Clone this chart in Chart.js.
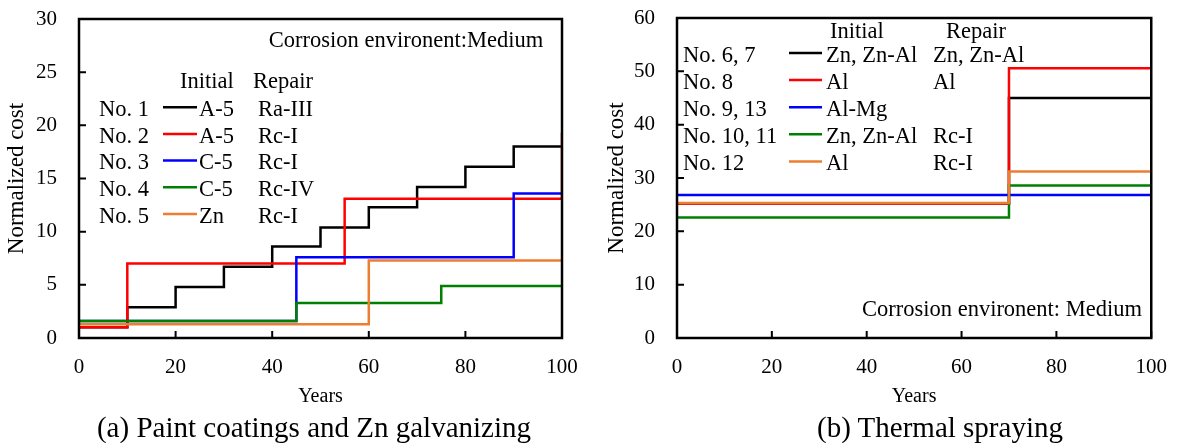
<!DOCTYPE html>
<html>
  <head>
    <title>Normalized cost</title>
    <script src="https://cdn.jsdelivr.net/npm/chart.js"></script>
    <style>
      body {
        margin: 0;
        background: #fff;
      }
      #wrap {
        position: relative;
        width: 1184px;
        height: 443px;
        background: #fff;
        font-family: "Liberation Serif", serif;
      }
      .pane {
        position: absolute;
        top: 0;
      }
      .cap {
        position: absolute;
        top: 412px;
        font-size: 29px;
        line-height: 31px;
        white-space: nowrap;
        transform: translateX(-50%);
        color: #000;
      }
    </style>
  </head>
  <body>
    <div id="wrap">
      <div class="pane" style="left: 0"><canvas id="chartA" width="600" height="443"></canvas></div>
      <div class="pane" style="left: 600px"><canvas id="chartB" width="584" height="443"></canvas></div>
      <div class="cap" style="left: 314px">(a) Paint coatings and Zn galvanizing</div>
      <div class="cap" style="left: 940px">(b) Thermal spraying</div>
    </div>

    <script>
      // (a) paint coatings and Zn galvanizing
      const aNames = ["No. 1", "No. 2", "No. 3", "No. 4", "No. 5"];
      const aInitial = ["A-5", "A-5", "C-5", "C-5", "Zn"];
      const aRepair = ["Ra-III", "Rc-I", "Rc-I", "Rc-IV", "Rc-I"];
      const aYears1 = [0, 10, 20, 30, 40, 50, 60, 70, 80, 90, 100];
      const aCost1 = [1.0, 2.9, 4.8, 6.7, 8.6, 10.4, 12.3, 14.2, 16.1, 18.0, 18.0];
      const aYears2 = [0, 10, 55, 100];
      const aCost2 = [1.0, 7.0, 13.1, 19.3];
      const aYears3 = [0, 45, 90, 100];
      const aCost3 = [1.6, 7.6, 13.6, 13.6];
      const aYears4 = [0, 45, 75, 100];
      const aCost4 = [1.6, 3.3, 4.9, 4.9];
      const aYears5 = [0, 60, 100];
      const aCost5 = [1.3, 7.3, 7.3];

      // (b) thermal spraying
      const bNames = ["No. 6, 7", "No. 8", "No. 9, 13", "No. 10, 11", "No. 12"];
      const bInitial = ["Zn, Zn-Al", "Al", "Al-Mg", "Zn, Zn-Al", "Al"];
      const bRepair = ["Zn, Zn-Al", "Al", "", "Rc-I", "Rc-I"];
      const bYears1 = [0, 70, 100];
      const bCost1 = [25.2, 45.0, 45.0];
      const bYears2 = [0, 70, 100];
      const bCost2 = [25.2, 50.6, 50.6];
      const bYears3 = [0, 100];
      const bCost3 = [26.8, 26.8];
      const bYears4 = [0, 70, 100];
      const bCost4 = [22.6, 28.6, 28.6];
      const bYears5 = [0, 70, 100];
      const bCost5 = [25.3, 31.2, 31.2];

      const colors = ["#000000", "#ff0000", "#0000ff", "#008000", "#ed7d31"];
      const serif = "'Liberation Serif', 'Times New Roman', serif";

      function pts(xs, ys) {
        return xs.map((x, i) => ({ x: x, y: ys[i] }));
      }

      function makeSets(list) {
        return list.map((d, i) => ({
          data: pts(d[0], d[1]),
          borderColor: colors[i],
          borderWidth: 2.5,
          pointRadius: 0,
          stepped: "before",
          fill: false,
          order: list.length - i,
        }));
      }

      // box frame + inward tick marks + legend block
      const framePlugin = {
        id: "frame",
        afterDraw(chart, args, o) {
          let ctx = chart.ctx;
          let a = chart.chartArea;
          let xs = chart.scales.x;
          let ys = chart.scales.y;
          ctx.save();
          ctx.strokeStyle = "#000";
          ctx.lineWidth = 2.5;
          ctx.strokeRect(a.left, a.top, a.right - a.left, a.bottom - a.top);
          ctx.lineWidth = 2;
          ctx.beginPath();
          xs.ticks.forEach((t) => {
            let px = xs.getPixelForValue(t.value);
            ctx.moveTo(px, a.bottom);
            ctx.lineTo(px, a.bottom - 7);
          });
          ys.ticks.forEach((t) => {
            let py = ys.getPixelForValue(t.value);
            ctx.moveTo(a.left, py);
            ctx.lineTo(a.left + 7, py);
          });
          ctx.stroke();

          // legend table
          let L = o.legend;
          ctx.fillStyle = "#000";
          ctx.font = "22.5px " + serif;
          ctx.textBaseline = "alphabetic";
          ctx.textAlign = "left";
          ctx.fillText("Initial", L.headInit, L.headY);
          ctx.fillText("Repair", L.headRep, L.headY);
          L.names.forEach((n, i) => {
            let by = L.rowY + i * L.step;
            ctx.fillStyle = "#000";
            ctx.fillText(n, L.nameX, by);
            ctx.fillText(L.initial[i], L.initX, by);
            if (L.repair[i]) ctx.fillText(L.repair[i], L.repX, by);
            ctx.strokeStyle = colors[i];
            ctx.lineWidth = 2.5;
            ctx.beginPath();
            ctx.moveTo(L.lineX0, by - 8.8);
            ctx.lineTo(L.lineX1, by - 8.8);
            ctx.stroke();
          });
          ctx.fillStyle = "#000";
          ctx.textAlign = "center";
          ctx.fillText(L.env, L.envX, L.envY);
          ctx.restore();
        },
      };

      function makeOptions(yMax, yStep, padRight, padTop, yWidth, legend) {
        return {
          responsive: false,
          animation: false,
          layout: { padding: { left: 0, right: padRight, top: padTop, bottom: 31 } },
          plugins: {
            legend: { display: false },
            tooltip: { enabled: false },
            frame: { legend: legend },
          },
          scales: {
            x: {
              type: "linear",
              min: 0,
              max: 100,
              grid: { display: false, drawTicks: false },
              border: { display: false },
              ticks: { stepSize: 20, padding: 17, color: "#000", font: { family: serif, size: 21 } },
              title: {
                display: true,
                text: "Years",
                color: "#000",
                padding: { top: 0, bottom: 3 },
                font: { family: serif, size: 20 },
              },
              afterFit: (s) => {
                s.height = 74;
              },
            },
            y: {
              min: 0,
              max: yMax,
              grid: { display: false, drawTicks: false },
              border: { display: false },
              ticks: { stepSize: yStep, padding: 22, color: "#000", font: { family: serif, size: 21 } },
              title: {
                display: true,
                text: "Normalized cost",
                color: "#000",
                padding: { top: 3, bottom: 0 },
                font: { family: serif, size: 23 },
              },
              afterFit: (s) => {
                s.width = yWidth;
                s.paddingTop = 0;
                s.paddingBottom = 0;
              },
            },
          },
        };
      }

      new Chart(document.getElementById("chartA"), {
        type: "line",
        data: {
          datasets: makeSets([
            [aYears1, aCost1],
            [aYears2, aCost2],
            [aYears3, aCost3],
            [aYears4, aCost4],
            [aYears5, aCost5],
          ]),
        },
        options: makeOptions(30, 5, 38, 19, 79, {
          names: aNames,
          initial: aInitial,
          repair: aRepair,
          headInit: 180,
          headRep: 253,
          headY: 88,
          nameX: 99,
          lineX0: 163,
          lineX1: 197,
          initX: 199,
          repX: 258,
          rowY: 116,
          step: 26.7,
          env: "Corrosion environent:Medium",
          envX: 406,
          envY: 47,
        }),
        plugins: [framePlugin],
      });

      new Chart(document.getElementById("chartB"), {
        type: "line",
        data: {
          datasets: makeSets([
            [bYears1, bCost1],
            [bYears2, bCost2],
            [bYears3, bCost3],
            [bYears4, bCost4],
            [bYears5, bCost5],
          ]),
        },
        options: makeOptions(60, 10, 26, 18, 77, {
          names: bNames,
          initial: bInitial,
          repair: bRepair,
          headInit: 230,
          headRep: 346,
          headY: 37.5,
          nameX: 83,
          lineX0: 189,
          lineX1: 222,
          initX: 226,
          repX: 333,
          rowY: 61.8,
          step: 27.1,
          env: "Corrosion environent: Medium",
          envX: 402,
          envY: 315.5,
        }),
        plugins: [framePlugin],
      });
    </script>
  </body>
</html>
